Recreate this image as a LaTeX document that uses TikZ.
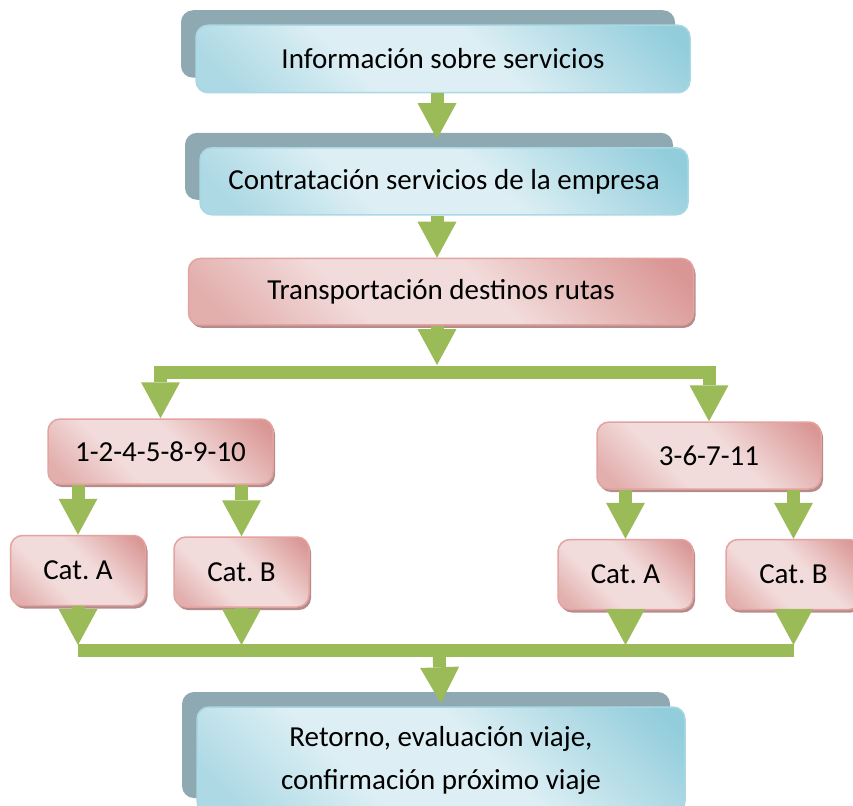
\documentclass[tikz,border=0pt]{standalone}
\usepackage{fontspec}
\setmainfont{Carlito}
\usepackage{tikz}
\usetikzlibrary{arrows.meta}
\usetikzlibrary{shadows}
\usetikzlibrary{calc}
\definecolor{bluelt}{HTML}{DDEFF4}
\definecolor{bluedk}{HTML}{92CDDC}
\definecolor{blueline}{HTML}{A9D8E4}
\definecolor{greyback}{HTML}{8EA9B1}
\definecolor{redlt}{HTML}{F2DCDB}
\definecolor{reddk}{HTML}{D99694}
\definecolor{redline}{HTML}{E3A3A1}
\definecolor{redshadow}{HTML}{B48C8C}
\definecolor{arrowgreen}{HTML}{9BBB59}
\pgfdeclareverticalshading{bluefade}{100bp}{color(0bp)=(bluedk!65!bluelt); color(20bp)=(bluedk!65!bluelt);
    color(38bp)=(bluelt); color(56bp)=(bluelt); color(82bp)=(bluedk); color(100bp)=(bluedk)}
\pgfdeclareverticalshading{redfade}{100bp}{color(0bp)=(reddk!65!redlt); color(20bp)=(reddk!65!redlt);
    color(38bp)=(redlt); color(56bp)=(redlt); color(82bp)=(reddk); color(100bp)=(reddk)}
\tikzset{
    box/.style={rounded corners=12pt, inner sep=0pt, align=center, line width=1.5pt,
        font=\fontsize{29}{43}\selectfont\frenchspacing},
    bluebox/.style={box, draw=blueline, shade, shading=bluefade, shading angle=-45,
        general shadow={fill=greyback, shadow xshift=-15pt, shadow yshift=15pt}},
    redbox/.style={box, draw=redline, shade, shading=redfade, shading angle=-45,
        general shadow={fill=redshadow, shadow xshift=2pt, shadow yshift=-3pt}},
    flow/.style={draw=arrowgreen, line width=13pt, -{Triangle[width=39pt,length=36pt,line width=0pt]}},
    bar/.style={draw=arrowgreen, line width=13pt}
}
\begin{document}
\begin{tikzpicture}[x=1pt, y=-1pt]
\useasboundingbox (0,0) rectangle (853,805);
\node[bluebox, minimum width=494pt, minimum height=67.5pt] (info) at (443,59) {Información sobre servicios};
\node[bluebox, minimum width=488pt, minimum height=67pt] (contr) at (444,181.3) {Contratación servicios de la empresa};
\node[redbox, minimum width=505pt, minimum height=66.5pt] (transp) at (441,291.7) {Transportación destinos rutas};
\node[redbox, minimum width=225pt, minimum height=65pt] (grpone) at (160.5,451.5) {1-2-4-5-8-9-10};
\node[redbox, minimum width=224pt, minimum height=67pt] (grptwo) at (709,455.5) {3-6-7-11};
\foreach \x/\y/\n/\t in {78/570.5/catAone/{Cat. A}, 241.5/572/catBone/{Cat. B}, 625.5/574.5/catAtwo/{Cat. A}, 793.5/574.5/catBtwo/{Cat. B}}{
    \node[redbox, minimum width=135pt, minimum height=70pt] (\n) at (\x,\y) {\t};
}
\node[bluebox, minimum width=488pt, minimum height=106pt] (ret) at (441,760) {Retorno, evaluación viaje,\\confirmación próximo viaje};
% green flow arrows
\coordinate (split) at (437,372);
\coordinate (join) at (439,650);
\draw[flow, shorten >=8pt] (info.south -| split) -- (contr.north -| split);
\draw[flow] (contr.south -| split) -- (transp.north -| split);
\draw[flow, shorten >=7pt] (transp.south -| split) -- (split);
\draw[flow] (split) -| (grpone.north);
\draw[flow] (split) -| (grptwo.north);
\foreach \a/\b in {grpone/catAone, grpone/catBone, grptwo/catAtwo, grptwo/catBtwo}{
    \draw[flow] (\a.south -| \b.north) -- (\b.north);
}
\draw[bar] (catAone.south |- join) -- (catBtwo.south |- join);
\foreach \c in {catAone, catBone, catAtwo, catBtwo}{
    \draw[flow, shorten >=5pt] (\c.south) -- (\c.south |- join);
}
\draw[flow, shorten >=3pt] (join) -- (ret.north);
\end{tikzpicture}
\end{document}
